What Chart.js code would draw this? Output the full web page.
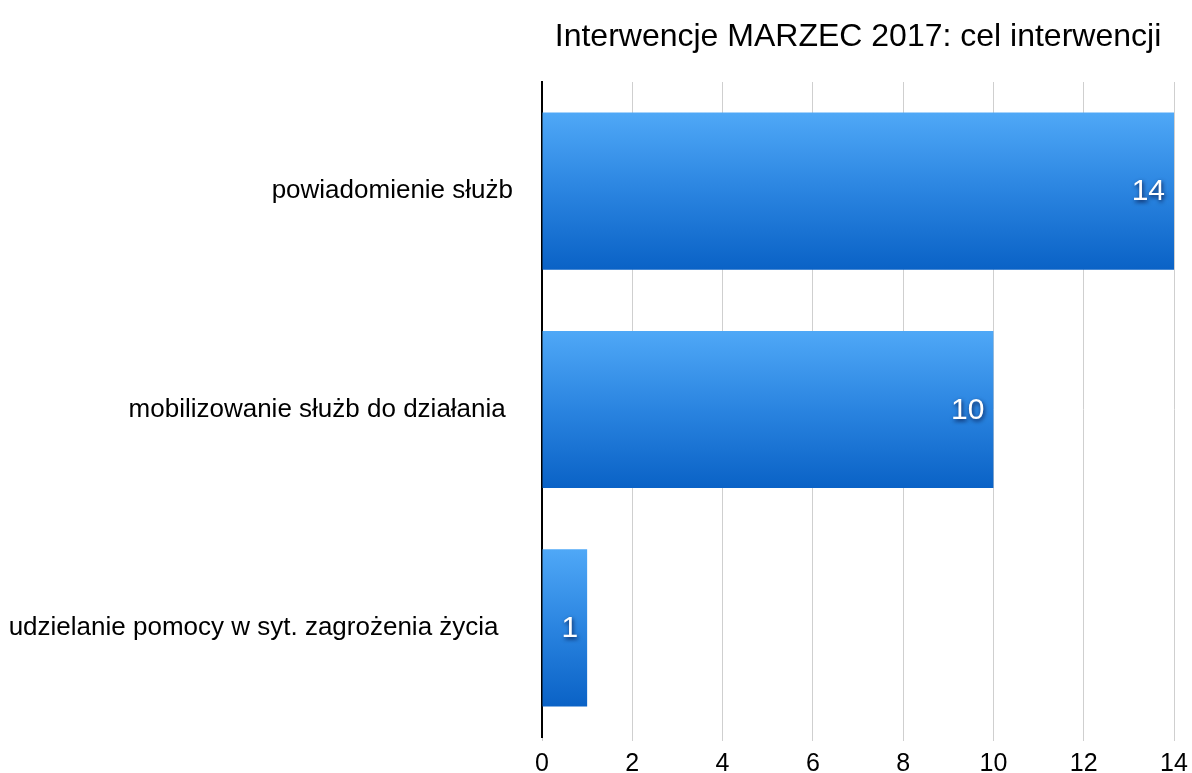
<!DOCTYPE html>
<html>
<head>
<meta charset="utf-8">
<script src="https://cdn.jsdelivr.net/npm/chart.js@4"></script>
<style>
  html, body { margin: 0; padding: 0; background: #fff; }
  #wrap { width: 1192px; height: 773px; }
</style>
</head>
<body>
<div id="wrap"><canvas id="chart"></canvas></div>
<script>
const kategorie = [
  'powiadomienie służb',
  'mobilizowanie służb do działania ',
  'udzielanie pomocy w syt. zagrożenia życia  '
];
const wartosci = [14, 10, 1];
const osX = [0, 2, 4, 6, 8, 10, 12, 14];
const tytul = 'Interwencje MARZEC 2017: cel interwencji';

const FONT = "'Liberation Sans', Arial, Helvetica, sans-serif";
const udzialKat = 0.72;

// gradient dla każdego słupka osobno (jasny u góry, ciemny na dole)
function kolorSlupka(ctx) {
  const chart = ctx.chart;
  const y = chart.scales.y;
  if (!chart.chartArea || !y || ctx.dataIndex === undefined) return '#2b86e0';
  const srodek = y.getPixelForValue(ctx.dataIndex);
  const pol = (y.bottom - y.top) / kategorie.length * udzialKat / 2;
  const g = chart.ctx.createLinearGradient(0, srodek - pol, 0, srodek + pol);
  g.addColorStop(0, '#4fa8f7');
  g.addColorStop(0.5, '#2a84e0');
  g.addColorStop(1, '#0a62c6');
  return g;
}

// tytuł wyśrodkowany nad obszarem wykresu
const tytulPlugin = {
  id: 'tytulPlugin',
  afterDraw(chart) {
    const c = chart.ctx;
    const a = chart.chartArea;
    c.save();
    c.font = '32px ' + FONT;
    c.fillStyle = '#000';
    c.textAlign = 'center';
    c.textBaseline = 'middle';
    c.fillText(tytul, (a.left + a.right) / 2, 37);
    c.restore();
  }
};

// etykiety z wartościami wewnątrz słupków
const etykiety = {
  id: 'etykiety',
  afterDatasetsDraw(chart) {
    const c = chart.ctx;
    const meta = chart.getDatasetMeta(0);
    c.save();
    c.font = '30px ' + FONT;
    c.textAlign = 'right';
    c.textBaseline = 'middle';
    c.fillStyle = '#fff';
    c.shadowColor = 'rgba(0,0,40,0.75)';
    c.shadowBlur = 4;
    c.shadowOffsetX = 1;
    c.shadowOffsetY = 2;
    meta.data.forEach((bar, i) => {
      c.fillText(String(wartosci[i]), bar.x - 9, bar.y + 1);
    });
    c.restore();
  }
};

new Chart(document.getElementById('chart'), {
  type: 'bar',
  data: {
    labels: kategorie,
    datasets: [{
      data: wartosci,
      backgroundColor: kolorSlupka,
      borderWidth: 0,
      categoryPercentage: udzialKat,
      barPercentage: 1
    }]
  },
  options: {
    indexAxis: 'y',
    responsive: true,
    maintainAspectRatio: false,
    animation: false,
    layout: { padding: { left: 0, right: 18, top: 82, bottom: 0 } },
    plugins: {
      legend: { display: false },
      tooltip: { enabled: false },
      title: { display: false }
    },
    scales: {
      x: {
        min: osX[0],
        max: osX[osX.length - 1],
        afterBuildTicks: s => { s.ticks = osX.map(v => ({ value: v })); },
        ticks: {
          color: '#000',
          font: { family: FONT, size: 25 },
          padding: 8
        },
        grid: { color: '#cfcfcf', lineWidth: 1, drawTicks: true, tickLength: 4 },
        border: { display: false },
        afterFit: s => {
          s.height = 36;
          s.paddingLeft = 0;
          s.paddingRight = 0;
        }
      },
      y: {
        ticks: {
          color: '#000',
          font: { family: FONT, size: 26 },
          padding: 29
        },
        grid: { display: false, drawTicks: false },
        border: { display: true, color: '#000', width: 2 },
        afterFit: s => {
          s.width = 542;
          s.paddingTop = 0;
          s.paddingBottom = 0;
        }
      }
    }
  },
  plugins: [etykiety, tytulPlugin]
});
</script>
</body>
</html>
